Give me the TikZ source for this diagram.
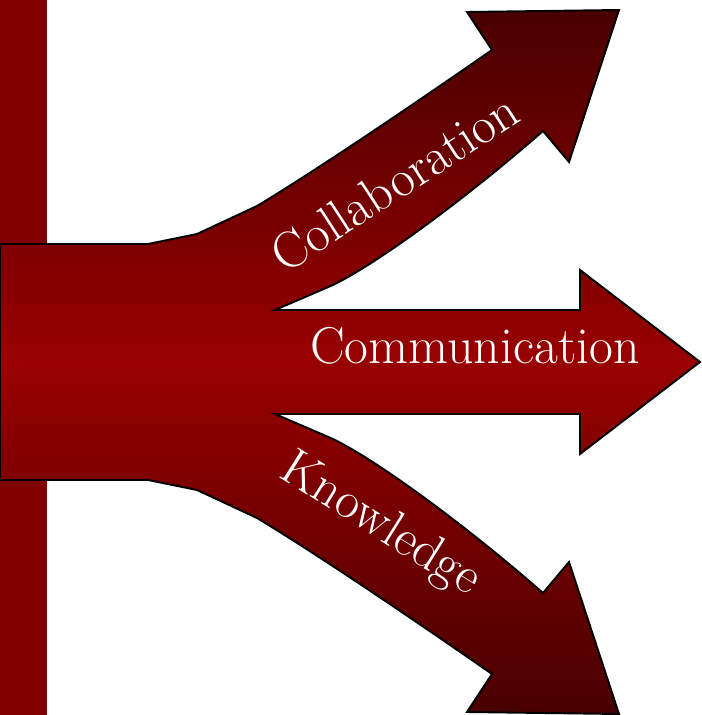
\documentclass[tikz,border=0pt]{standalone}
\usepackage{tikz}
\usepackage{xcolor}
\definecolor{barred}{HTML}{800000}
\definecolor{tipred}{HTML}{480000}
\definecolor{midred}{HTML}{990000}

\begin{document}
\begin{tikzpicture}[x=0.02cm,y=-0.02cm,
    armtext/.style={text=white,font=\fontsize{29.5}{32}\selectfont},
    arrowshape/.style={draw=black,line width=1.1pt,line join=miter,
        top color=tipred,bottom color=tipred,middle color=midred}]
   \useasboundingbox (0,0) rectangle (701,715);
   \fill[barred] (0,0) rectangle (47,715);

   % three-pronged arrow
   \draw[arrowshape] (0,244) -- (148,244) -- (197,234) -- (257,206)
      .. controls (320,168) and (420,100) .. (492,50)
      -- (467,12) -- (619,10) -- (569,162) -- (543,131)
      .. controls (470,195) and (380,262) .. (333,285) -- (275,310)
      -- (580,310) -- (580,270) -- (700,362) -- (580,454) -- (580,414) -- (275,414)
      -- (333,439) .. controls (380,462) and (470,529) .. (543,593)
      -- (569,562) -- (619,714) -- (467,712) -- (492,674)
      .. controls (420,624) and (320,556) .. (257,518)
      -- (197,490) -- (148,480) -- (0,480) -- cycle;

   \node[armtext, rotate=33, anchor=base] (collab) at (404,197) {Collaboration};
   \node[armtext, anchor=base] (comm) at (475,363) {Communication};
   \node[armtext, rotate=-32, anchor=base] (know) at (373,536) {Knowledge};
\end{tikzpicture}
\end{document}
